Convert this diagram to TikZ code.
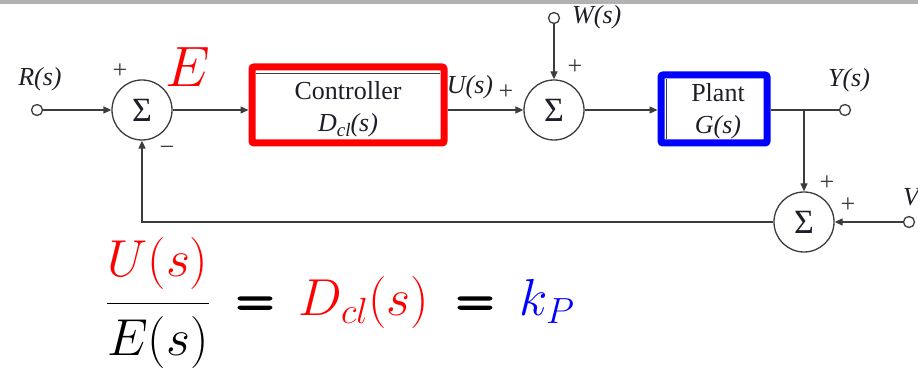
\RequirePackage{fix-cm}
\documentclass[tikz,border=0pt]{standalone}
\usepackage[no-math]{fontspec}
\setmainfont{Liberation Serif}
\usetikzlibrary{arrows.meta}
\definecolor{linec}{RGB}{60,60,60}
\definecolor{textc}{RGB}{30,30,40}
\definecolor{barc}{RGB}{178,178,178}
\newcommand{\thickeq}{{\special{pdf:literal direct 1 J 1 j 2.4 w 2 Tr}$=$\special{pdf:literal direct 0 Tr}}}
\begin{document}
\begin{tikzpicture}[x=1pt,y=-1pt,
  sumnode/.style={circle, draw=linec, line width=1.3pt, minimum size=60pt, inner sep=0pt, text=textc, font=\fontsize{34}{36}\selectfont},
  port/.style={circle, draw=linec, line width=1.3pt, minimum size=11pt, inner sep=0pt, fill=white},
  wire/.style={draw=linec, line width=1.3pt},
  arr/.style={wire, -{Triangle[length=8pt,width=7pt]}},
  lbl/.style={font=\fontsize{26}{28}\selectfont\itshape, text=textc, inner sep=0pt},
  txt/.style={font=\fontsize{26}{28}\selectfont, text=textc, inner sep=0pt},
  sgn/.style={font=\fontsize{26}{28}\selectfont, text=linec, inner sep=0pt},
  frame/.style={draw, line width=7pt, rounded corners=2pt, inner sep=0pt},
  eqn/.style={font=\fontsize{52}{56}\selectfont, inner sep=0pt, anchor=base}
]
\useasboundingbox (0,0) rectangle (918,371);
\fill[barc] (0,0) rectangle (918,4);

% nodes
\node[port] (r) at (37,110) {};
\node[lbl] (rl) at (40,79) {R(s)};
\node[sumnode] (s1) at (142,110) {Σ};
\node[sgn] (p1) at (120,71) {+};
\node[sgn] (m1) at (167,151) {−};
\node[text=red, font=\fontsize{57}{60}\selectfont, inner sep=0pt] (E) at (188,67) {$E$};

\node[lbl] (ul) at (470,87) {U(s)};
\node[sgn] (p2) at (506,92) {+};
\node[sumnode] (s2) at (554,110) {Σ};
\node[port] (w) at (554,18) {};
\node[lbl, anchor=west] (wl) at (572,17) {W(s)};
\node[sgn] (p3) at (575,67) {+};

\node[port] (y) at (845,110) {};
\node[lbl] (yl) at (849,80) {Y(s)};
\coordinate (br) at (804,110);

\node[sumnode] (s3) at (804,222) {Σ};
\node[sgn] (p4) at (827,183) {+};
\node[sgn] (p5) at (848,205) {+};
\node[port] (v) at (909,222) {};
\node[lbl, anchor=west] (vl) at (903,197) {V};

% inner original box edges
\draw[linec, line width=0.8pt] (256,73) -- (440,73);
\draw[linec, line width=0.8pt] (666,79) -- (666,139);

\node[frame, draw=red, minimum width=192pt, minimum height=76pt] (ctrl) at (348,105) {};
\node[txt] (ctrlt) at (348,91) {Controller};
\node[lbl] (ctrld) at (348,125) {D\raisebox{-0.45ex}{\fontsize{19}{20}\selectfont cl}(s)};

\node[frame, draw=blue, minimum width=106pt, minimum height=68pt] (plant) at (714,109) {};
\node[txt] (plantt) at (718,93) {Plant};
\node[lbl] (plantg) at (718,127) {G(s)};

% equation
\node[eqn] (frac) at (158,316) {$\displaystyle\frac{\raisebox{4pt}{\color{red}$U(s)$}}{\raisebox{-4pt}{$E(s)$}}$};
\node[eqn] (eq1) at (255,316) {\thickeq};
\node[eqn, text=red] (dcl) at (364,316) {$D_{cl}(s)$};
\node[eqn] (eq2) at (475,316) {\thickeq};
\node[eqn, text=blue] (kp) at (547,316) {$k_P$};

% connectors
\draw[arr] (r) -- (s1);
\draw[arr] (s1) -- (s1 -| ctrl.west);
\draw[arr] (s1 -| ctrl.east) -- (s2);
\draw[arr] (w) -- (s2);
\draw[arr] (s2) -- (s2 -| plant.west);
\draw[wire] (s2 -| plant.east) -- (y);
\draw[arr] (br) -- (s3);
\draw[arr] (v) -- (s3);
\draw[arr] (s3) -| (s1);
\end{tikzpicture}
\end{document}
